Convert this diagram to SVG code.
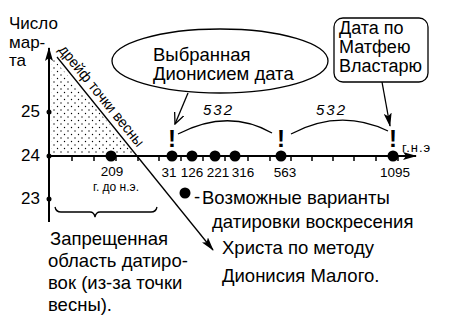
<svg xmlns="http://www.w3.org/2000/svg" width="449" height="320" viewBox="0 0 449 320">
<style>
text{font-family:"Liberation Sans",Arial,sans-serif;fill:#000}
.lbl{font-size:18.5px}
.num{font-size:13.5px;text-anchor:middle}
.ax{font-size:17px;text-anchor:end}
.ln{stroke:#000;fill:none;stroke-width:2}
.thin{stroke:#000;fill:none;stroke-width:1.3}
.excl{font-size:24px;font-weight:bold;text-anchor:middle}
.n532{font-size:15px;font-style:italic;letter-spacing:2px}
.box{font-size:18px}
</style>
<defs>
<marker id="fa" markerWidth="14" markerHeight="8" refX="13" refY="4" orient="auto" markerUnits="userSpaceOnUse">
<path d="M0,0 L14,4 L0,8 L3,4 z" fill="#000"/>
</marker>
<marker id="oa" markerWidth="12" markerHeight="10" refX="11" refY="5" orient="auto" markerUnits="userSpaceOnUse">
<path d="M0,0 L11,5 L0,10" fill="none" stroke="#000" stroke-width="1.3"/>
</marker>
<pattern id="dots" width="7" height="7" patternUnits="userSpaceOnUse">
<circle cx="1.5" cy="1.5" r="0.7" fill="#000"/>
<circle cx="5" cy="5" r="0.7" fill="#000"/>
</pattern>
</defs>

<g id="stipple">
<polygon points="51,56 51,154 135,154" fill="url(#dots)"/>
</g>

<g id="axes">
<line class="ln" x1="49" y1="222" x2="49" y2="48" marker-end="url(#fa)"/>
<line class="ln" x1="49" y1="156" x2="416" y2="156" marker-end="url(#fa)"/>
<path d="M72,156v5M94,156v5M116,156v5M138,156v5M159,156v5M181,156v5M203,156v5M225,156v5M248,156v5M270,156v5M291,156v5M312,156v5M333,156v5M354,156v5M376,156v5M398,156v5" stroke="#000" stroke-width="1.5"/>
<circle cx="49" cy="112" r="2.5"/>
<circle cx="49" cy="156" r="2.5"/>
<circle cx="49" cy="199" r="2.5"/>
<text class="ax" x="40" y="117">25</text>
<text class="ax" x="40" y="161">24</text>
<text class="ax" x="40" y="204">23</text>
<text x="9" y="29" style="font-size:17px">Число</text>
<text x="9" y="48" style="font-size:17px">мар-</text>
<text x="9" y="66" style="font-size:17px">та</text>
<text x="402" y="152" style="font-size:13px;letter-spacing:1px">г.н.э</text>
</g>

<g id="drift">
<line class="thin" x1="57" y1="57" x2="213" y2="250" marker-end="url(#fa)"/>
<text transform="translate(58,50) rotate(51)" style="font-size:15px" textLength="126" lengthAdjust="spacingAndGlyphs">дрейф точки весны</text>
</g>

<g id="points">
<circle cx="111" cy="156" r="5.5"/>
<circle cx="172" cy="156" r="5.5"/>
<circle cx="192" cy="156" r="5.5"/>
<circle cx="215" cy="156" r="5.5"/>
<circle cx="235" cy="156" r="5.5"/>
<circle cx="281" cy="156" r="5.5"/>
<circle cx="393" cy="156" r="5.5"/>
<text class="num" x="112" y="176">209</text>
<text x="116" y="191" style="font-size:12px;text-anchor:middle">г. до н.э.</text>
<text class="num" x="169" y="177">31</text>
<text class="num" x="192" y="177">126</text>
<text class="num" x="218" y="177">221</text>
<text class="num" x="243" y="177">316</text>
<text class="num" x="285" y="177">563</text>
<text class="num" x="395" y="177">1095</text>
</g>

<g id="marks">
<text class="excl" x="172" y="147">!</text>
<text class="excl" x="281" y="147">!</text>
<text class="excl" x="393" y="147">!</text>
<path class="thin" d="M178,134 Q228,108 272,133"/>
<path class="thin" d="M291,134 Q340,108 388,131"/>
<text class="n532" x="203" y="115">532</text>
<text class="n532" x="316" y="115">532</text>
</g>

<g id="ellipse-node">
<ellipse class="thin" cx="220" cy="61" rx="108" ry="32"/>
<text class="lbl" x="153" y="61">Выбранная</text>
<text class="lbl" x="153" y="80">Дионисием дата</text>
</g>

<g id="box-node">
<rect class="thin" x="334" y="18" width="94" height="64" rx="9"/>
<text class="box" x="339" y="34">Дата по</text>
<text class="box" x="339" y="53">Матфею</text>
<text class="box" x="339" y="72">Властарю</text>
</g>

<g id="connectors">
<line class="thin" x1="188" y1="93" x2="175" y2="124" marker-end="url(#oa)"/>
<line class="thin" x1="382" y1="82" x2="390" y2="126" marker-end="url(#fa)"/>
</g>

<g id="forbidden">
<path class="thin" d="M55,207 Q56,212 61,212 L90,212 Q94,212 95,217 Q96,212 100,212 L151,212 Q156,212 157,207"/>
<text class="lbl" x="50" y="245">Запрещенная</text>
<text class="lbl" x="48" y="267">область датиро-</text>
<text class="lbl" x="48" y="289">вок (из-за точки</text>
<text class="lbl" x="48" y="311">весны).</text>
</g>

<g id="legend">
<circle cx="185" cy="193" r="5.5"/>
<text class="lbl" x="194" y="203">-</text>
<text class="lbl" x="202" y="204">Возможные варианты</text>
<text class="lbl" x="212" y="228">датировки воскресения</text>
<text class="lbl" x="222" y="254">Христа по методу</text>
<text class="lbl" x="222" y="282">Дионисия Малого.</text>
</g>
</svg>
